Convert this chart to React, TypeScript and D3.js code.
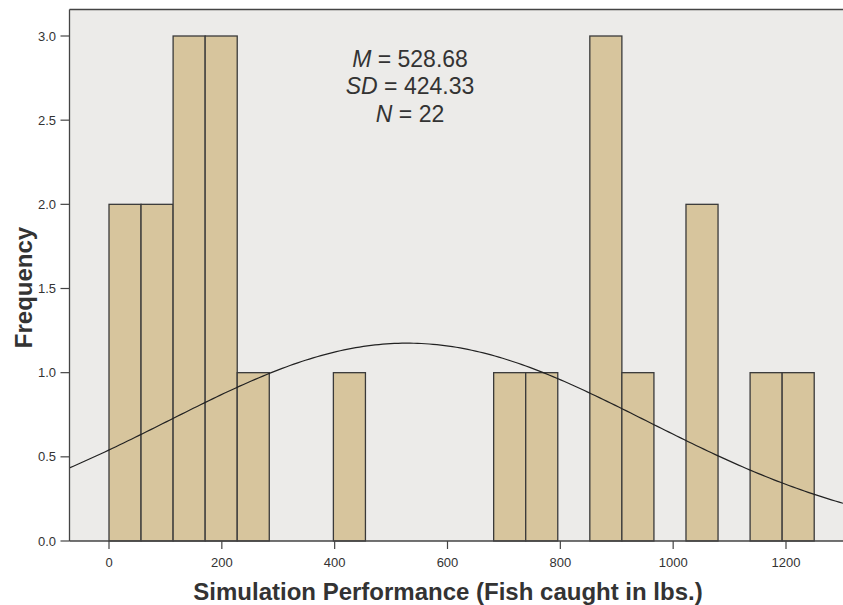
import React from "react";
import * as d3 from "d3";

const binStart = 0;
const binEnd = 1250;
const binCounts = [2, 2, 3, 3, 1, 0, 0, 1, 0, 0, 0, 0, 1, 1, 0, 3, 1, 0, 2, 0, 1, 1];
const xTicks = [0, 200, 400, 600, 800, 1000, 1200];
const yTicks = [0, 0.5, 1.0, 1.5, 2.0, 2.5, 3.0];
const stats = { mean: 528.68, sd: 424.33, n: 22 };

const W = 843;
const H = 605;
const left = 69.5;
const top = 9.5;
const right = 843;
const bottom = 541;

export default function App() {
  const x = d3.scaleLinear().domain([0, 1200]).range([109, 786]);
  const y = d3.scaleLinear().domain([0, 3]).range([bottom, 36]);
  const bw = (binEnd - binStart) / binCounts.length;
  const xMin = x.invert(left);
  const xMax = x.invert(right);
  const scale = stats.n * bw / (stats.sd * Math.sqrt(2 * Math.PI));
  const pts: [number, number][] = d3.range(0, 201).map((i) => {
    const v = xMin + ((xMax - xMin) * i) / 200;
    const z = (v - stats.mean) / stats.sd;
    return [v, scale * Math.exp(-0.5 * z * z)];
  });
  const line = d3.line<[number, number]>().x((d) => x(d[0])).y((d) => y(d[1]));
  const font = "'Liberation Sans', Arial, Helvetica, sans-serif";
  return (
    <svg width={W} height={H} style={{ position: "absolute", left: 0, top: 0, background: "#fff" }} fontFamily={font}>
      <defs>
        <clipPath id="plot">
          <rect x={left} y={top} width={right - left} height={bottom - top} />
        </clipPath>
      </defs>
      <rect x={left} y={top} width={right - left} height={bottom - top} fill="#ecebe9" />
      {binCounts.map((c, i) =>
        c > 0 ? (
          <rect
            key={i}
            x={x(binStart + i * bw)}
            y={y(c)}
            width={x(binStart + (i + 1) * bw) - x(binStart + i * bw)}
            height={y(0) - y(c)}
            fill="#d7c59d"
            stroke="#3a3a3a"
            strokeWidth={1.3}
          />
        ) : null
      )}
      <path d={line(pts) || ""} fill="none" stroke="#222" strokeWidth={1.2} clipPath="url(#plot)" />
      <line x1={left} x2={right} y1={top} y2={top} stroke="#444" strokeWidth={1.3} />
      <line x1={left} x2={left} y1={top} y2={bottom} stroke="#444" strokeWidth={1.3} />
      <line x1={left} x2={right} y1={bottom} y2={bottom} stroke="#444" strokeWidth={1.3} />
      {yTicks.map((t) => (
        <g key={t}>
          <line x1={left - 9} x2={left} y1={y(t)} y2={y(t)} stroke="#444" strokeWidth={1.2} />
          <text x={56} y={y(t) + 4.5} textAnchor="end" fontSize={13} fill="#333">
            {t.toFixed(1)}
          </text>
        </g>
      ))}
      {xTicks.map((t) => (
        <g key={t}>
          <line x1={x(t)} x2={x(t)} y1={bottom} y2={bottom + 8} stroke="#444" strokeWidth={1.2} />
          <text x={x(t)} y={567} textAnchor="middle" fontSize={13} fill="#333">
            {t}
          </text>
        </g>
      ))}
      <text x={448} y={600} textAnchor="middle" fontSize={24} fontWeight="bold" fill="#333">
        Simulation Performance (Fish caught in lbs.)
      </text>
      <text transform="translate(32,287.5) rotate(-90)" textAnchor="middle" fontSize={24} fontWeight="bold" fill="#333">
        Frequency
      </text>
      <g fontSize={23} fill="#333" textAnchor="middle">
        <text x={410} y={67}>
          <tspan fontStyle="italic">M</tspan> = {stats.mean.toFixed(2)}
        </text>
        <text x={410} y={94}>
          <tspan fontStyle="italic">SD</tspan> = {stats.sd.toFixed(2)}
        </text>
        <text x={410} y={121.5}>
          <tspan fontStyle="italic">N</tspan> = {stats.n}
        </text>
      </g>
    </svg>
  );
}
